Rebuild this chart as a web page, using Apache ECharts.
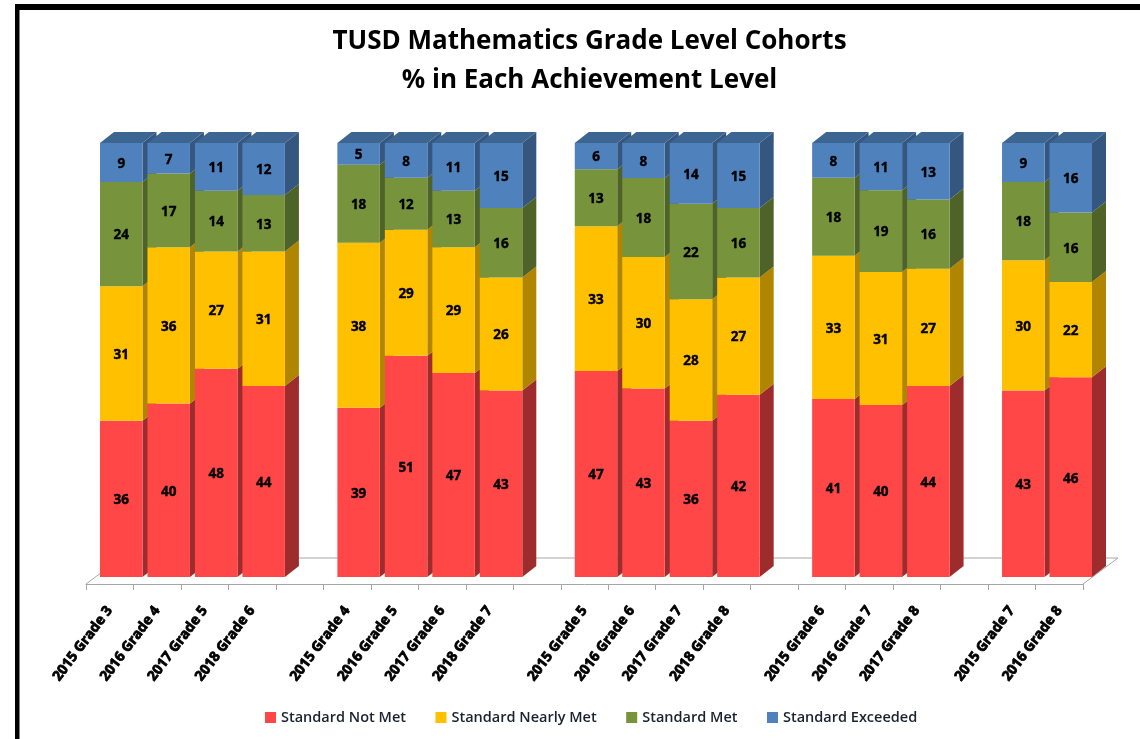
<!DOCTYPE html>
<html>
<head>
<meta charset="utf-8">
<style>html,body{margin:0;padding:0;background:#fff}#c{width:1140px;height:739px}</style>
<script src="https://cdn.jsdelivr.net/npm/echarts@6/dist/echarts.min.js"></script>
</head>
<body>
<div id="c"></div>
<script>
const categories = ['2015 Grade 3','2016 Grade 4','2017 Grade 5','2018 Grade 6','',
  '2015 Grade 4','2016 Grade 5','2017 Grade 6','2018 Grade 7','',
  '2015 Grade 5','2016 Grade 6','2017 Grade 7','2018 Grade 8','',
  '2015 Grade 6','2016 Grade 7','2017 Grade 8','',
  '2015 Grade 7','2016 Grade 8'];
const notMet    = [36,40,48,44,null,39,51,47,43,null,47,43,36,42,null,41,40,44,null,43,46];
const nearlyMet = [31,36,27,31,null,38,29,29,26,null,33,30,28,27,null,33,31,27,null,30,22];
const met       = [24,17,14,13,null,18,12,13,16,null,13,18,22,16,null,18,19,16,null,18,16];
const exceeded  = [ 9, 7,11,12,null, 5, 8,11,15,null, 6, 8,14,15,null, 8,11,13,null, 9,16];

const seriesDefs = [
  {name:'Standard Not Met',   values:notMet,    front:'#FF4747', side:'#9E2C2C', top:'#C43838'},
  {name:'Standard Nearly Met',values:nearlyMet, front:'#FFC000', side:'#B08500', top:'#C99700'},
  {name:'Standard Met',       values:met,       front:'#77933C', side:'#4F6228', top:'#5F7630'},
  {name:'Standard Exceeded',  values:exceeded,  front:'#4F81BD', side:'#35567F', top:'#3C6592'}
];

const BAR_RATIO = 0.895, SHIFT_X = 11.5, DEPTH_X = 14, DEPTH_Y = 11;
const FONT = '"Open Sans", "Noto Sans", sans-serif';

const totals = categories.map((_, i) => seriesDefs.reduce((s, d) => s + (d.values[i] || 0), 0));
const running = categories.map(() => 0);

const series = seriesDefs.map((def, si) => {
  const data = [];
  def.values.forEach((v, i) => {
    if (v == null) return;
    const base = running[i];
    const top = base + v / totals[i] * 100;
    running[i] = top;
    data.push([i, base, top, v]);
  });
  return {
    type: 'custom',
    name: def.name,
    silent: true,
    itemStyle: {color: def.front},
    encode: {x: 0, y: [1, 2]},
    data,
    renderItem(params, api) {
      const cat = api.value(0);
      const pTop = api.coord([cat, api.value(2)]);
      const pBase = api.coord([cat, api.value(1)]);
      const slot = api.size([1, 0])[0];
      const w = slot * BAR_RATIO;
      const x0 = pTop[0] - w / 2 + SHIFT_X;
      const x1 = x0 + w;
      const yT = pTop[1], yB = pBase[1];
      const z = cat * 10 + 1;
      const children = [
        {type:'polygon', z2:z, shape:{points:[[x1,yT],[x1+DEPTH_X,yT-DEPTH_Y],[x1+DEPTH_X,yB-DEPTH_Y],[x1,yB]]}, style:{fill:def.side}},
        {type:'rect', z2:z+1, shape:{x:x0,y:yT,width:w,height:yB-yT}, style:{fill:def.front}}
      ];
      if (si === seriesDefs.length - 1) {
        children.push({type:'polygon', z2:z, shape:{points:[[x0,yT],[x0+DEPTH_X,yT-DEPTH_Y],[x1+DEPTH_X,yT-DEPTH_Y],[x1,yT]]}, style:{fill:def.top}});
      }
      children.push({type:'text', z2:z+2, style:{
        text:String(api.value(3)), x:(x0+x1)/2, y:(yT+yB)/2 + 1.5,
        align:'center', verticalAlign:'middle', textAlign:'center', textVerticalAlign:'middle',
        font:'bold 13.5px '+FONT, fill:'#000', stroke:'#000', lineWidth:0.4
      }});
      return {type:'group', children};
    }
  };
});

const chart = echarts.init(document.getElementById('c'), null, {renderer:'canvas'});
chart.setOption({
  animation: false,
  backgroundColor: '#fff',
  title: {
    text: 'TUSD Mathematics Grade Level Cohorts\n% in Each Achievement Level',
    left: 584.5, top: 17, textAlign: 'center',
    textStyle: {fontFamily: FONT, fontWeight: 'bold', fontSize: 26, lineHeight: 39, color: '#000'}
  },
  grid: {left: 86, width: 997, top: 143, height: 434},
  xAxis: {
    type: 'category', data: categories, offset: 7, boundaryGap: true,
    axisLine: {onZero: false, lineStyle: {color: '#A6A6A6', width: 1}},
    axisTick: {show: true, length: 6, alignWithLabel: false, interval: 0, lineStyle: {color: '#A6A6A6'}},
    axisLabel: {interval: 0, rotate: 53, margin: 24, fontFamily: FONT, fontWeight: 'bold', fontSize: 14,
      color: '#000', textBorderColor: '#000', textBorderWidth: 0.8}
  },
  yAxis: {type: 'value', min: 0, max: 100, show: false},
  legend: {
    left: 260, top: 705, icon: 'rect', itemWidth: 11, itemHeight: 11, itemGap: 29.5,
    selectedMode: false,
    textStyle: {fontFamily: FONT, fontSize: 14.5, fontWeight: 600, color: '#1a2230'},
    data: seriesDefs.map(d => d.name)
  },
  graphic: [
    {type:'rect', silent:true, shape:{x:15,y:4,width:1125,height:6}, style:{fill:'#000'}},
    {type:'rect', silent:true, shape:{x:15,y:4,width:4.5,height:735}, style:{fill:'#000'}},
    {type:'polyline', silent:true, z:0, shape:{points:[[86,584],[121,558],[1118,558],[1083,584]]}, style:{stroke:'#A6A6A6', lineWidth:1, fill:null}}
  ],
  series
});
</script>
</body>
</html>
